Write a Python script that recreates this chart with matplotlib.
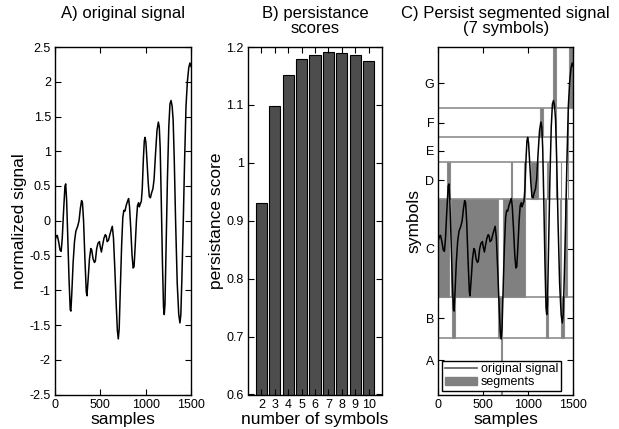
import numpy as np
import matplotlib
matplotlib.use("Agg")
import matplotlib.pyplot as plt
from matplotlib.patches import Rectangle, Patch
from matplotlib.lines import Line2D
from matplotlib.ticker import FormatStrFormatter, FuncFormatter

plt.rcParams["font.family"] = ["Liberation Sans", "DejaVu Sans"]

# ── data ────────────────────────────────────────────────────────────
sig_x = [0, 15, 25, 40, 55, 68, 80, 95, 110, 118, 128, 140, 155, 168, 175, 185,
         200, 215, 230, 250, 265, 280, 293, 303, 315, 330, 345, 352, 365, 380,
         395, 405, 420, 435, 445, 460, 475, 490, 500, 512, 525, 540, 555, 565,
         575, 590, 605, 618, 632, 645, 660, 675, 688, 698, 708, 720, 735, 748,
         760, 772, 785, 800, 812, 822, 835, 850, 862, 872, 885, 898, 910, 922,
         930, 940, 952, 962, 975, 985, 993, 1003, 1015, 1028, 1040, 1052, 1065,
         1080, 1093, 1108, 1125, 1140, 1150, 1160, 1172, 1185, 1197, 1205, 1213,
         1225, 1240, 1255, 1268, 1280, 1292, 1303, 1315, 1330, 1348, 1365, 1378,
         1388, 1400, 1415, 1430, 1445, 1460, 1475, 1488, 1500]
sig_y = [-0.28, -0.22, -0.21, -0.30, -0.42, -0.44, -0.25, 0.15, 0.50, 0.53, 0.30,
         -0.20, -0.85, -1.28, -1.30, -1.05, -0.60, -0.30, -0.15, -0.08, 0.00, 0.18,
         0.29, 0.26, 0.00, -0.55, -1.02, -1.08, -0.85, -0.55, -0.40, -0.42, -0.55,
         -0.60, -0.58, -0.40, -0.32, -0.30, -0.38, -0.45, -0.35, -0.25, -0.20,
         -0.22, -0.30, -0.28, -0.20, -0.14, -0.08, -0.25, -0.70, -1.20, -1.58,
         -1.70, -1.55, -1.00, -0.35, 0.05, 0.15, 0.14, 0.22, 0.28, 0.32, 0.20,
         -0.10, -0.50, -0.68, -0.66, -0.35, 0.00, 0.22, 0.26, 0.20, 0.24, 0.28,
         0.45, 0.90, 1.15, 1.20, 1.12, 0.85, 0.55, 0.35, 0.33, 0.40, 0.46, 0.60,
         0.95, 1.30, 1.42, 1.35, 1.05, 0.30, -0.60, -1.25, -1.35, -1.20, -0.40,
         0.60, 1.35, 1.68, 1.73, 1.65, 1.45, 0.90, 0.00, -0.90, -1.35, -1.47,
         -1.35, -0.80, 0.00, 0.90, 1.65, 2.00, 2.20, 2.27, 2.22]

n_symbols = [2, 3, 4, 5, 6, 7, 8, 9, 10]
scores = [0.93, 1.098, 1.152, 1.180, 1.187, 1.192, 1.190, 1.187, 1.176]

sym_labels = ["A", "B", "C", "D", "E", "F", "G"]
sym_edges = [-2.5, -1.69, -1.10, 0.31, 0.84, 1.20, 1.62, 2.5]
sym_ticks = [-2.01, -1.40, -0.40, 0.58, 1.01, 1.41, 1.98]

# segments: start, end, symbol index
seg_start = [697, 148, 665, 1192, 1362,
             0, 146, 715, 1188, 1355, 1408,
             100, 811, 955, 1030, 1212, 1306, 1360, 1440,
             1306, 1440,
             1130, 1306, 1440,
             1270, 1448]
seg_end = [703, 190, 712, 1222, 1400,
           118, 665, 960, 1200, 1368, 1435,
           132, 819, 964, 1112, 1218, 1312, 1366, 1446,
           1312, 1446,
           1162, 1312, 1446,
           1308, 1500]
seg_sym = [0, 1, 1, 1, 1,
           2, 2, 2, 2, 2, 2,
           3, 3, 3, 3, 3, 3, 3, 3,
           4, 4,
           5, 5, 5,
           6, 6]

FIG_W, FIG_H = 619, 429


def box(l, t, r, b):
    return [l / FIG_W, 1 - b / FIG_H, (r - l) / FIG_W, (b - t) / FIG_H]


def style(ax):
    ax.tick_params(direction="in", top=True, right=True, length=4, width=0.8,
                   labelsize=9, pad=3)
    for s in ax.spines.values():
        s.set_linewidth(1.0)


gfmt = FuncFormatter(lambda v, p: f"{v:g}")

fig = plt.figure(figsize=(FIG_W / 100, FIG_H / 100), dpi=100)

# A) original signal
axa = fig.add_axes(box(55, 47, 191, 394.5))
axa.plot(sig_x, sig_y, color="k", lw=1.1)
axa.set_xlim(0, 1500)
axa.set_ylim(-2.5, 2.5)
axa.set_xticks([0, 500, 1000, 1500])
axa.set_yticks(np.arange(-2.5, 2.51, 0.5))
axa.yaxis.set_major_formatter(gfmt)
axa.set_xlabel("samples", fontsize=12.5, labelpad=1)
axa.set_ylabel("normalized signal", fontsize=12.5, labelpad=2)
style(axa)

# B) persistance scores
axb = fig.add_axes(box(248, 47, 382, 394.5))
axb.bar(n_symbols, scores, width=0.85, color="#4d4d4d", edgecolor="k", lw=0.8)
axb.set_xlim(1, 11)
axb.set_ylim(0.6, 1.2)
axb.set_xticks(n_symbols)
axb.set_yticks(np.arange(0.6, 1.21, 0.1))
axb.yaxis.set_major_formatter(gfmt)
axb.set_xlabel("number of symbols", fontsize=12.5, labelpad=1)
axb.set_ylabel("persistance score", fontsize=12.5, labelpad=2)
style(axb)

# C) segmented signal
axc = fig.add_axes(box(438.3, 47, 573.3, 394.5))
for e in sym_edges[1:-1]:
    axc.plot([0, 1500], [e, e], color="0.62", lw=1.4, zorder=1)
for s0, s1, k in zip(seg_start, seg_end, seg_sym):
    axc.add_patch(Rectangle((s0, sym_edges[k]), s1 - s0, sym_edges[k + 1] - sym_edges[k],
                            facecolor="0.5", edgecolor="0.55", lw=0.8, zorder=2))
axc.plot(sig_x, sig_y, color="k", lw=1.1, zorder=3)
axc.set_xlim(0, 1500)
axc.set_ylim(-2.5, 2.5)
axc.set_xticks([0, 500, 1000, 1500])
axc.set_yticks(sym_ticks)
axc.set_yticklabels(sym_labels)
axc.set_xlabel("samples", fontsize=12.5, labelpad=1)
axc.set_ylabel("symbols", fontsize=12.5, labelpad=2)
style(axc)
leg = axc.legend(handles=[Line2D([0], [0], color="0.35", lw=1.2),
                          Patch(facecolor="0.5", edgecolor="0.5")],
                 labels=["original signal", "segments"], loc="lower left",
                 fontsize=9, fancybox=False, framealpha=1, edgecolor="k",
                 borderpad=0.2, labelspacing=0.1, handlelength=2.6,
                 handletextpad=0.3, borderaxespad=0.3)
leg.get_frame().set_linewidth(1.0)
leg.set_zorder(5)

# titles
for ax, txt in [(axa, "A) original signal"),
                (axb, "B) persistance\nscores"),
                (axc, "C) Persist segmented signal\n(7 symbols)")]:
    pos = ax.get_position()
    fig.text(pos.x0 + pos.width / 2, 1 - 6 / FIG_H, txt, ha="center", va="top",
             fontsize=12, linespacing=1.0)

fig.savefig("out.png", dpi=100)
